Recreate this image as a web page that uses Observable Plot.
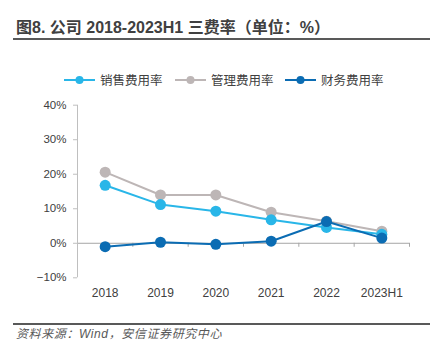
<!DOCTYPE html>
<html><head><meta charset="utf-8">
<script src="https://cdn.jsdelivr.net/npm/d3@7"></script>
<script src="https://cdn.jsdelivr.net/npm/@observablehq/plot@0.6"></script>
<style>
body{margin:0;background:#fff;}
#wrap{position:relative;width:447px;height:352px;background:#fff;overflow:hidden;font-family:"Liberation Sans","Noto Sans CJK SC",sans-serif;}
#title{position:absolute;left:16px;top:18px;font-size:16px;font-weight:bold;color:#404040;white-space:nowrap;line-height:20px;}
.rule{position:absolute;left:13px;width:417px;height:2px;background:#595959;}
#legend{position:absolute;top:71px;left:0;width:447px;height:18px;}
.item{position:absolute;top:0;height:18px;display:flex;align-items:center;white-space:nowrap;}
.item svg{flex:none;}
.item span{font-family:"Noto Sans CJK SC",sans-serif;font-size:12.5px;color:#404040;margin-left:5px;line-height:18px;white-space:nowrap;}
#chart{position:absolute;left:0;top:90px;}
#foot{position:absolute;left:16px;top:327px;font-size:12px;letter-spacing:0.6px;line-height:15px;font-style:italic;color:#595959;font-family:"Liberation Sans","Noto Sans CJK SC",sans-serif;white-space:nowrap;}
</style></head>
<body><div id="wrap">
<div id="title">图8. 公司 2018-2023H1 三费率（单位：%）</div>
<div class="rule" style="top:38px"></div>
<div id="legend"></div>
<div id="chart"></div>
<div class="rule" style="top:323px"></div>
<div id="foot">资料来源：Wind，安信证券研究中心</div>
</div>
<script>
const categories = ["2018","2019","2020","2021","2022","2023H1"];
const seriesNames = ["销售费用率","管理费用率","财务费用率"];
const salesRate = [16.8, 11.2, 9.3, 6.8, 4.6, 2.6];
const adminRate = [20.6, 14.0, 14.0, 9.0, 6.4, 3.5];
const financeRate = [-1.0, 0.3, -0.3, 0.6, 6.3, 1.5];
const colors = ["#29b6e8", "#bdb6b6", "#0b6cb3"];
const yTicks = [-10, 0, 10, 20, 30, 40];

const seriesValues = [salesRate, adminRate, financeRate];
const rows = [];
seriesValues.forEach((vals, s) => vals.forEach((v, i) => rows.push({series: seriesNames[s], i, cat: categories[i], value: v})));
// drawing order: 管理 first, then 销售, then 财务 on top
const drawOrder = [1, 0, 2];
const idx = categories.map((_, i) => i);
const bounds = categories.map((_, i) => i + 0.5);

const marks = [
  Plot.ruleY([0], {stroke: "#a6a6a6", strokeWidth: 1}),
  Plot.ruleX([-0.5], {y1: -10, y2: 40, stroke: "#bfbfbf", strokeWidth: 1}),
  Plot.ruleX(bounds, {y1: 0, y2: 0, insetBottom: -4, stroke: "#a6a6a6", strokeWidth: 1}),
  Plot.axisY({ticks: yTicks, label: null, tickSize: 4, tickPadding: 7, stroke: "#bfbfbf", fill: "#404040", fontSize: 11.5,
    tickFormat: d => (d < 0 ? "\u2212" + Math.abs(d) : d) + "%"}),
  Plot.axisX({ticks: idx, label: null, tickSize: 0, tickPadding: 11, fill: "#404040", fontSize: 12,
    tickFormat: i => categories[i]})
];
for (const s of drawOrder) {
  const data = rows.filter(d => d.series === seriesNames[s]);
  marks.push(Plot.line(data, {x: "i", y: "value", stroke: colors[s], strokeWidth: 2}));
  marks.push(Plot.dot(data, {x: "i", y: "value", r: 5.5, fill: colors[s], stroke: "none"}));
}

const chart = Plot.plot({
  width: 447, height: 215,
  marginLeft: 77, marginRight: 38, marginTop: 14.7, marginBottom: 27.7,
  style: {fontFamily: "'Liberation Sans', Arial, sans-serif", background: "transparent", overflow: "visible"},
  x: {type: "linear", domain: [-0.5, 5.5], axis: null},
  y: {domain: [-10, 40], axis: null},
  marks
});
document.getElementById("chart").appendChild(chart);

// legend
const legendX = [64, 175, 285];
const legendOrder = [0, 1, 2];
const legend = document.getElementById("legend");
legendOrder.forEach((s, k) => {
  const div = document.createElement("div");
  div.className = "item";
  div.style.left = legendX[k] + "px";
  div.innerHTML = `<svg width="31" height="18"><line x1="0" y1="9" x2="31" y2="9" stroke="${colors[s]}" stroke-width="2"/><circle cx="15.5" cy="9" r="4" fill="${colors[s]}"/></svg><span>${seriesNames[s]}</span>`;
  legend.appendChild(div);
});
</script>
</body></html>
